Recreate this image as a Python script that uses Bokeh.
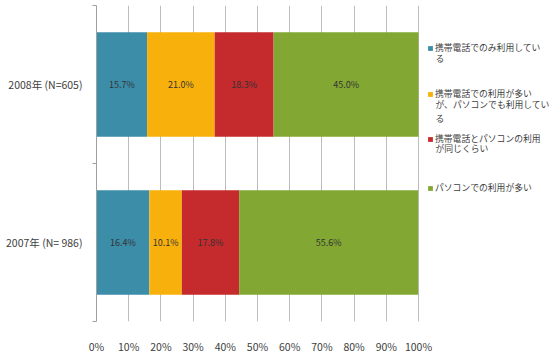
from bokeh.plotting import figure
from bokeh.models import ColumnDataSource, FixedTicker, Legend, LegendItem, Range1d, Label
from bokeh.embed import file_html
from bokeh.resources import INLINE
from bokeh.core.properties import value

groups = ["2007年 (N= 986)", "2008年 (N=605)"]
legend_lines = [
    ["携帯電話でのみ利用してい", "る"],
    ["携帯電話での利用が多い", "が、パソコンでも利用してい", "る"],
    ["携帯電話とパソコンの利用", "が同じくらい"],
    ["パソコンでの利用が多い"],
]
only_mobile = [16.4, 15.7]
mostly_mobile = [10.1, 21.0]
equal_use = [17.8, 18.3]
mostly_pc = [55.6, 45.0]
x_ticks = [0, 10, 20, 30, 40, 50, 60, 70, 80, 90, 100]

colors = ["#3B8DA8", "#F8B10C", "#C52A2D", "#82A733"]
FONT = "Noto Sans CJK JP"
TXT = "#404040"

# layout (pixels)
W, H = 550, 356
LEFT, TOP, FRAME_H = 96, 5, 320
BOTTOM = H - TOP - FRAME_H
BAR_AREA = 322                      # px spanned by 0..100 %
frame_w = W - LEFT
x_end = 100 * frame_w / BAR_AREA
px_x = 100 / BAR_AREA               # data units per px (x)
px_y = 2 / FRAME_H                  # data units per px (y)

# legend layout: glyph left edge and first-line centres (page px)
LEG_X = 427
LEG_LINE_H = 14
LEG_FIRST = [45, 91, 136, 185]
LEG_FS = "8.8px"

keys = ["s0", "s1", "s2", "s3"]
ypos = [i + 0.5 for i in range(len(groups))]
src = ColumnDataSource(dict(y=ypos, s0=only_mobile, s1=mostly_mobile, s2=equal_use, s3=mostly_pc))

p = figure(width=W, height=H, output_backend="svg", toolbar_location=None,
           x_range=Range1d(0, x_end), y_range=Range1d(0, 2),
           min_border_left=LEFT, min_border_right=0, min_border_top=TOP, min_border_bottom=BOTTOM)
p.outline_line_color = None

rs = p.hbar_stack(keys, y="y", height=0.66, color=colors, line_color=None, source=src)

# value labels
data = [only_mobile, mostly_mobile, equal_use, mostly_pc]
lx, ly, lt = [], [], []
for gi in range(len(groups)):
    left = 0
    for si in range(4):
        v = data[si][gi]
        lx.append(left + v / 2)
        ly.append(ypos[gi])
        lt.append(f"{v:.1f}%")
        left += v
p.text(x=lx, y=ly, text=lt, text_font=value(FONT), text_font_size="9px",
       text_align="center", text_baseline="middle", text_color="#333333")

# x axis
p.xaxis.ticker = FixedTicker(ticks=x_ticks)
p.xaxis.major_label_overrides = {t: f"{t}%" for t in x_ticks}
p.xaxis.axis_line_color = None
p.xaxis.major_tick_line_color = None
p.xaxis.major_tick_out = 0
p.xaxis.major_tick_in = 0
p.xaxis.minor_tick_line_color = None
p.xaxis.major_label_standoff = 17
p.xaxis.major_label_text_font = FONT
p.xaxis.major_label_text_font_size = "10.5px"
p.xaxis.major_label_text_color = TXT
p.xgrid.grid_line_color = "#BDBDBD"
p.ygrid.grid_line_color = None

# y axis
p.yaxis.ticker = FixedTicker(ticks=ypos, minor_ticks=[0, 1, 2])
p.yaxis.major_label_overrides = {y: g for y, g in zip(ypos, groups)}
p.yaxis.major_tick_line_color = None
p.yaxis.major_tick_out = 4
p.yaxis.major_tick_in = 0
p.yaxis.minor_tick_line_color = "#A0A0A0"
p.yaxis.minor_tick_in = 0
p.yaxis.minor_tick_out = 4
p.yaxis.axis_line_color = "#A0A0A0"
p.yaxis.major_label_standoff = 10
p.yaxis.major_label_text_font = FONT
p.yaxis.major_label_text_font_size = "10.5px"
p.yaxis.major_label_text_color = TXT

# legend: glyph + first line via Legend, continuation lines as Labels
GLYPH = 6
STANDOFF = 2
ITEM_H = 12
LEG_SHIFT = 7
text_x_data = (LEG_X + GLYPH + STANDOFF - LEFT) * px_x
for lines, r, y0 in zip(legend_lines, rs, LEG_FIRST):
    lg = Legend(items=[LegendItem(label=lines[0], renderers=[r])],
                location=(LEG_X - LEFT, TOP + FRAME_H - (y0 + ITEM_H / 2) - LEG_SHIFT),
                border_line_color=None, background_fill_alpha=0,
                glyph_width=GLYPH, glyph_height=GLYPH, label_height=ITEM_H, label_width=10,
                label_text_font=FONT, label_text_font_size=LEG_FS, label_text_color=TXT,
                label_text_baseline="middle",
                spacing=0, padding=0, margin=0, label_standoff=STANDOFF)
    p.add_layout(lg, "center")
    for k, line in enumerate(lines[1:], start=1):
        yc = y0 + k * LEG_LINE_H
        p.add_layout(Label(x=text_x_data, y=(TOP + FRAME_H - yc) * px_y, text=line,
                           text_font=FONT, text_font_size=LEG_FS, text_color=TXT,
                           text_baseline="middle", text_align="left"))

open("out.html", "w").write(file_html(p, INLINE))
